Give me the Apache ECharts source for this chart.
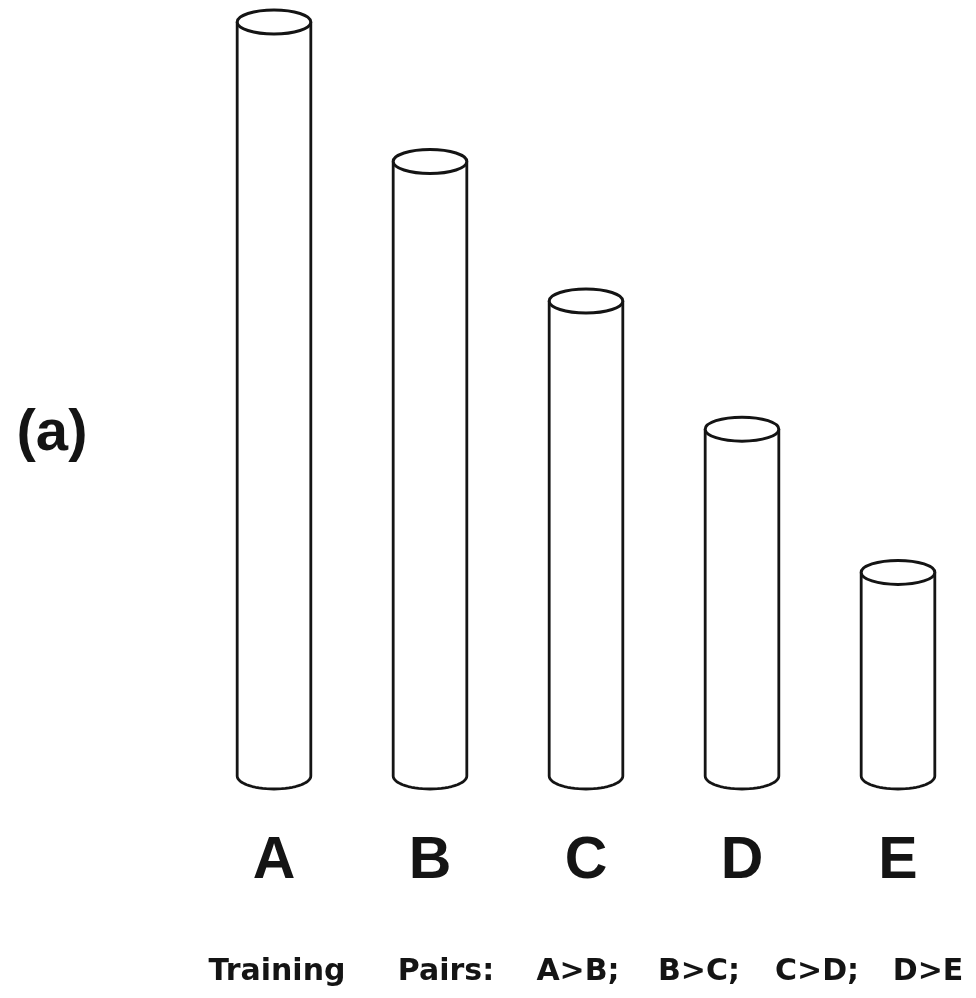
<!DOCTYPE html>
<html>
<head>
<meta charset="utf-8">
<script src="https://cdn.jsdelivr.net/npm/echarts@6/dist/echarts.min.js"></script>
<style>
  html, body { margin: 0; padding: 0; background: #fff; }
  #main { width: 976px; height: 998px; }
</style>
</head>
<body>
<div id="main"></div>
<script>
const categories = ['A', 'B', 'C', 'D', 'E'];
const heights = [100, 81.5, 63, 46, 27];
const panelLabel = '(a)';
const pairsTitle = ['Training', 'Pairs:'];
const pairs = categories.slice(0, -1).map((c, i) => c + '>' + categories[i + 1] + (i < categories.length - 2 ? ';' : ''));

const ink = '#141414';
const chart = echarts.init(document.getElementById('main'));

function cylinder(params, api) {
  const top = api.coord([api.value(0), api.value(1)]);
  const base = api.coord([api.value(0), 0]);
  const rx = api.size([1, 0])[0] * 0.236;
  const ry = 12;
  const x0 = top[0] - rx;
  const x1 = top[0] + rx;
  const pts = [[x0, top[1]], [x0, base[1]]];
  const n = 30;
  for (let k = 1; k < n; k++) {
    const t = Math.PI - Math.PI * k / n;
    pts.push([top[0] + rx * Math.cos(t), base[1] + (ry + 1) * Math.sin(t)]);
  }
  pts.push([x1, base[1]], [x1, top[1]]);
  return {
    type: 'group',
    children: [
      {
        type: 'polyline',
        shape: { points: pts },
        style: { fill: null, stroke: ink, lineWidth: 2.8, lineJoin: 'round' }
      },
      {
        type: 'ellipse',
        shape: { cx: top[0], cy: top[1], rx: rx, ry: ry },
        style: { fill: '#fff', stroke: ink, lineWidth: 3 }
      }
    ]
  };
}

// bottom caption, one text per word, centred where the words sit
const textFont = 'bold 30px "DejaVu Sans"';
const bottomCenters = [277, 446, 578, 699, 817, 928];
const bottomWords = pairsTitle.concat(pairs);

const options = {
  animation: false,
  backgroundColor: '#fff',
  grid: { left: 196, width: 785, top: 22, bottom: 222 },
  xAxis: {
    type: 'category',
    data: categories,
    axisLine: { show: false },
    axisTick: { show: false },
    splitLine: { show: false },
    axisLabel: {
      margin: 56,
      color: ink,
      fontFamily: 'Liberation Sans',
      fontWeight: 'bold',
      fontSize: 59
    }
  },
  yAxis: {
    type: 'value',
    min: 0,
    max: 100,
    show: false
  },
  graphic: [
    {
      type: 'text',
      x: 52,
      y: 434,
      style: {
        text: panelLabel,
        font: 'bold 58px "Liberation Sans"',
        fill: ink,
        textAlign: 'center',
        textVerticalAlign: 'middle'
      }
    }
  ].concat(bottomWords.map((w, i) => ({
    type: 'text',
    x: bottomCenters[i],
    y: 972,
    style: {
      text: w,
      font: textFont,
      fill: ink,
      textAlign: 'center',
      textVerticalAlign: 'middle'
    }
  }))),
  series: [
    {
      type: 'custom',
      renderItem: cylinder,
      encode: { x: 0, y: 1 },
      data: heights.map((v, i) => [i, v])
    }
  ]
};
chart.setOption(options);
</script>
</body>
</html>
